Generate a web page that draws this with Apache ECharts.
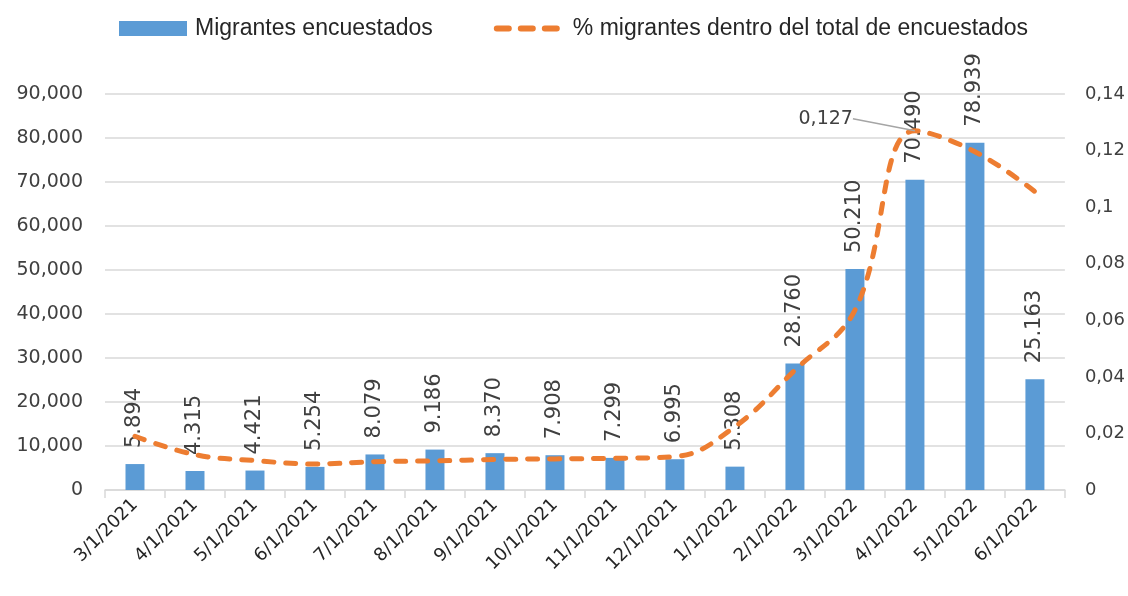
<!DOCTYPE html>
<html>
<head>
<meta charset="utf-8">
<script src="https://cdn.jsdelivr.net/npm/echarts/dist/echarts.min.js"></script>
<style>
html,body{margin:0;padding:0;background:#fff;}
#chart{width:1128px;height:596px;}
</style>
</head>
<body>
<div id="chart"></div>
<script>
var meses = ['3/1/2021','4/1/2021','5/1/2021','6/1/2021','7/1/2021','8/1/2021','9/1/2021','10/1/2021',
             '11/1/2021','12/1/2021','1/1/2022','2/1/2022','3/1/2022','4/1/2022','5/1/2022','6/1/2022'];
var migrantes = [5894, 4315, 4421, 5254, 8079, 9186, 8370, 7908, 7299, 6995, 5308, 28760, 50210, 70490, 78939, 25163];
var porcentaje = [0.019, 0.0125, 0.0104, 0.0092, 0.0100, 0.0103, 0.0108, 0.0110, 0.0112, 0.0118, 0.0224, 0.0424, 0.0636, 0.127, 0.1196, 0.1055];
var ticksIzq = [0, 90000, 10000];
var ticksDer = [0, 0.14, 0.02];

var fuente = "'DejaVu Sans', sans-serif";
var fuenteLeyenda = "'Liberation Sans Narrow', 'Liberation Sans', sans-serif";

initChart();

function initChart(){
	var myChart = echarts.init(document.getElementById('chart'));

	// only the peak point of the line carries a label
	var lineaData = [];
	for(var i=0;i<porcentaje.length;i++){
		if(i==13){
			lineaData.push({
				value:porcentaje[i],
				label:{show:true,position:'left',distance:4,color:'#404040',fontSize:19,fontFamily:fuente,
					formatter:function(p){ return String(p.value).replace('.',','); }},
				labelLine:{show:true,lineStyle:{color:'#a5a5a5',width:1.5}}
			});
		}else{
			lineaData.push(porcentaje[i]);
		}
	}

	var option = {
		animation:false,
		legend:{
			left:114,
			top:12,
			itemWidth:68,
			itemHeight:15,
			itemGap:61,
			textStyle:{fontSize:23,color:'#262626',fontFamily:fuenteLeyenda,padding:[0,0,0,3]},
			data:[
				{name:'Migrantes encuestados',icon:'rect'},
				{name:'% migrantes dentro del total de encuestados',
					itemStyle:{opacity:0},
					lineStyle:{width:6,type:[12,12],cap:'round',color:'#ed7d31'}}
			]
		},
		grid:{left:105,right:63,top:94,bottom:106},
		xAxis:{
			type:'category',
			data:meses,
			axisLine:{lineStyle:{color:'#d9d9d9',width:1.5}},
			axisTick:{show:true,length:8,lineStyle:{color:'#d9d9d9',width:1.5}},
			axisLabel:{rotate:45,color:'#262626',fontSize:18,fontFamily:fuente,margin:12,interval:0}
		},
		yAxis:[
			{
				type:'value',
				min:ticksIzq[0],max:ticksIzq[1],interval:ticksIzq[2],
				axisLine:{show:false},
				axisTick:{show:false},
				splitLine:{lineStyle:{color:'#d9d9d9',width:1.5}},
				axisLabel:{color:'#404040',fontSize:19,fontFamily:fuente,margin:22,
					formatter:function(v){ return v.toString().replace(/\B(?=(\d{3})+(?!\d))/g, ','); }}
			},
			{
				type:'value',
				min:ticksDer[0],max:ticksDer[1],interval:ticksDer[2],
				axisLine:{show:false},
				axisTick:{show:false},
				splitLine:{show:false},
				axisLabel:{color:'#404040',fontSize:18,fontFamily:fuente,margin:20,
					formatter:function(v){ return String(Math.round(v*100)/100).replace('.',','); }}
			}
		],
		series:[
			{
				name:'Migrantes encuestados',
				type:'bar',
				yAxisIndex:0,
				barWidth:19,
				itemStyle:{color:'#5b9bd5'},
				label:{
					show:true,position:'top',rotate:90,align:'left',verticalAlign:'middle',distance:16,
					color:'#404040',fontSize:21,fontFamily:fuente,
					formatter:function(p){ return p.value.toString().replace(/\B(?=(\d{3})+(?!\d))/g, '.'); }
				},
				data:migrantes
			},
			{
				name:'% migrantes dentro del total de encuestados',
				type:'line',
				yAxisIndex:1,
				smooth:0.4,
				symbol:'circle',
				symbolSize:0.01,
				showSymbol:true,
				z:3,
				lineStyle:{color:'#ed7d31',width:5,type:[10,12],cap:'round'},
				itemStyle:{color:'#ed7d31'},
				labelLayout:function(params){
					if(params.dataIndex==13){
						return {dx:-58,dy:-12};
					}
				},
				data:lineaData
			}
		]
	};
	myChart.setOption(option);
}
</script>
</body>
</html>
